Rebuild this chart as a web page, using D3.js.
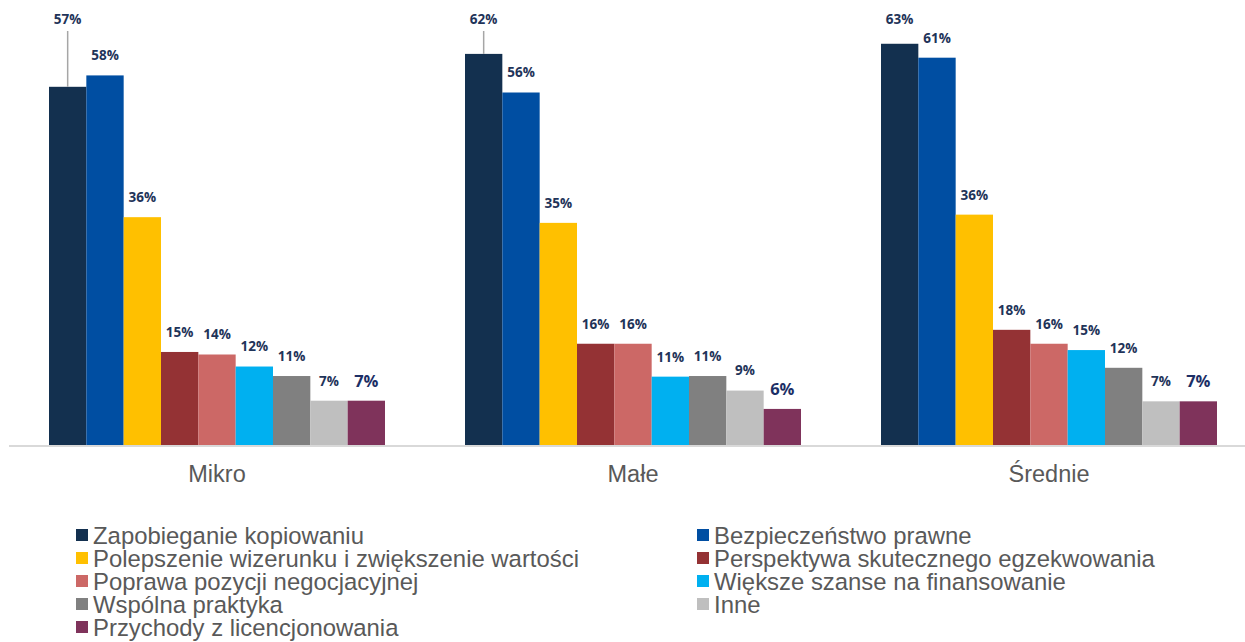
<!DOCTYPE html>
<html>
<head>
<meta charset="utf-8">
<script src="https://cdn.jsdelivr.net/npm/d3@7"></script>
<style>
  html, body { margin: 0; padding: 0; background: #fff; }
  svg { display: block; }
</style>
</head>
<body>
<svg id="chart" width="1245" height="642"></svg>
<script>
// ---- data ----
const categories = ["Mikro", "Małe", "Średnie"];
const seriesNames = [
  "Zapobieganie kopiowaniu",
  "Bezpieczeństwo prawne",
  "Polepszenie wizerunku i zwiększenie wartości",
  "Perspektywa skutecznego egzekwowania",
  "Poprawa pozycji negocjacyjnej",
  "Większe szanse na finansowanie",
  "Wspólna praktyka",
  "Inne",
  "Przychody z licencjonowania"
];
const seriesColors = ["#13304F", "#004EA2", "#FFC000", "#943234", "#CC6866", "#00B0F0", "#808080", "#BFBFBF", "#7F335B"];
// values per series, in category order [Mikro, Małe, Średnie]
const zapobieganie   = [56.6, 61.8, 63.4];
const bezpieczenstwo = [58.4, 55.7, 61.2];
const polepszenie    = [36.0, 35.1, 36.4];
const perspektywa    = [14.7, 16.0, 18.2];
const poprawa        = [14.3, 16.0, 16.0];
const wieksze        = [12.4, 10.8, 15.0];
const wspolna        = [10.9, 10.9, 12.2];
const inne           = [7.0, 8.6, 6.9];
const przychody      = [7.0, 5.7, 6.9];
const seriesValues = [zapobieganie, bezpieczenstwo, polepszenie, perspektywa, poprawa, wieksze, wspolna, inne, przychody];

// ---- layout ----
const svg = d3.select("#chart");
const baseY = 445;

const x0 = d3.scaleBand().domain(categories).range([9, 1257])
  .paddingInner(80 / 416).paddingOuter(40 / 416);
const x1 = d3.scaleBand().domain(d3.range(seriesNames.length)).range([0, x0.bandwidth()]).padding(0);
const y = d3.scaleLinear().domain([0, 70]).range([baseY, 2]);

const rows = [];
categories.forEach((c, ci) => {
  seriesValues.forEach((vals, si) => rows.push({ c, ci, si, v: vals[ci] }));
});

// bars
svg.append("g").selectAll("rect").data(rows).join("rect")
  .attr("x", d => x0(d.c) + x1(d.si))
  .attr("y", d => y(d.v))
  .attr("width", x1.bandwidth())
  .attr("height", d => y(0) - y(d.v))
  .attr("fill", d => seriesColors[d.si]);

// axis baseline
const axis = svg.append("g").attr("transform", `translate(0,${baseY + 1})`)
  .call(d3.axisBottom(x0).tickSize(0).tickPadding(20).tickSizeOuter(0));
axis.select(".domain").attr("stroke", "#D9D9D9").attr("stroke-width", 2)
  .attr("d", "M9,0H1257");
axis.selectAll(".tick text")
  .attr("font-family", "Liberation Sans, Arial, sans-serif")
  .attr("font-size", 23.5)
  .attr("fill", "#595959")
  .attr("dy", "0.71em")
  .attr("y", 19);

// data labels
const labelG = svg.append("g");
rows.forEach(d => {
  const top = y(d.v);
  const cx = x0(d.c) + x1(d.si) + x1.bandwidth() / 2;
  let ly = top - 20;
  if (d.si === 0) ly = Math.min(ly, 19);
  if (top - ly > 25) {
    labelG.append("line")
      .attr("x1", cx).attr("x2", cx)
      .attr("y1", ly + 12).attr("y2", top)
      .attr("stroke", "#A6A6A6").attr("stroke-width", 1.5);
  }
  const last = d.si === seriesNames.length - 1;
  labelG.append("text")
    .attr("x", cx).attr("y", ly).attr("dy", "0.36em")
    .attr("text-anchor", "middle")
    .attr("font-family", "Open Sans, Noto Sans, sans-serif")
    .attr("font-weight", 700)
    .attr("font-size", last ? 16.5 : 13.5)
    .attr("fill", last ? "#1C2F66" : "#1F3459")
    .text(Math.round(d.v) + "%");
});

// legend
const legend = svg.append("g");
const colX = [76, 697];
const rowY0 = 535, rowStep = 23;
seriesNames.forEach((name, i) => {
  const col = i % 2, row = Math.floor(i / 2);
  const g = legend.append("g").attr("transform", `translate(${colX[col]},${rowY0 + row * rowStep})`);
  g.append("rect").attr("x", 0).attr("y", -6).attr("width", 12).attr("height", 12)
    .attr("fill", seriesColors[i]);
  g.append("text").attr("x", 17).attr("y", 0).attr("dy", "0.36em")
    .attr("font-family", "Liberation Sans, Arial, sans-serif")
    .attr("font-size", 23.9)
    .attr("fill", "#595959")
    .text(name);
});
</script>
</body>
</html>
